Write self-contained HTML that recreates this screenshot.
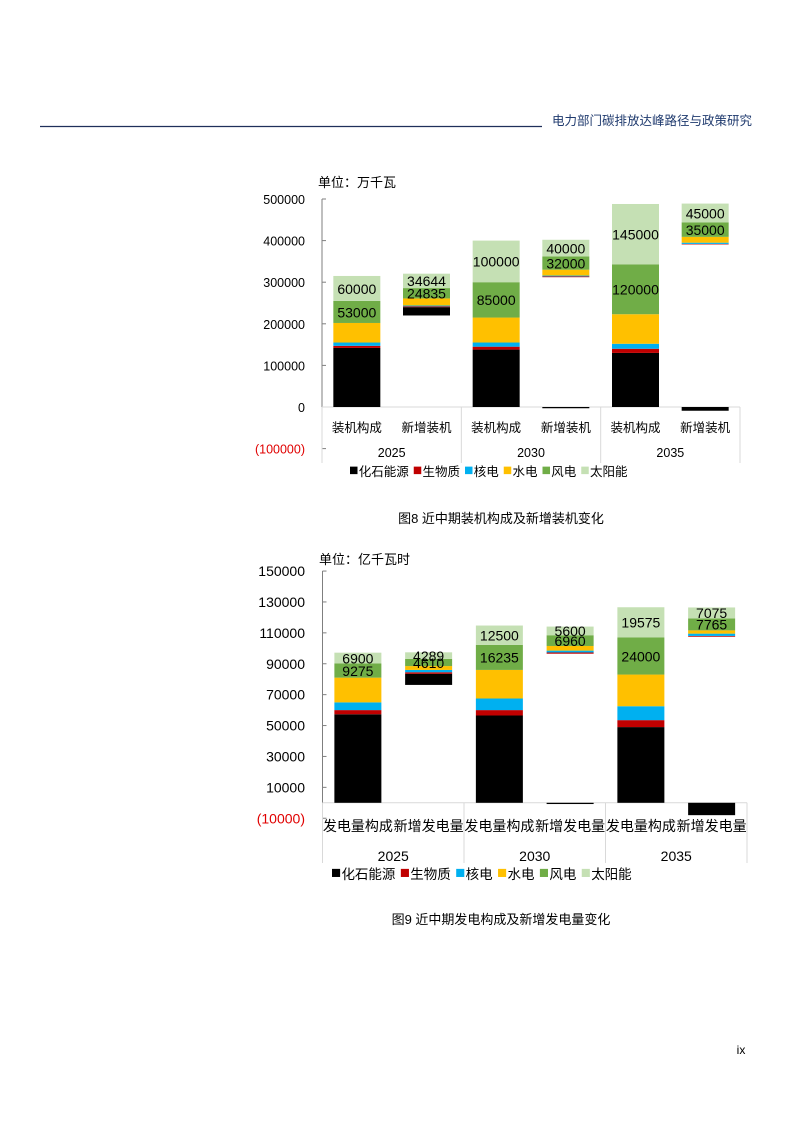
<!DOCTYPE html>
<html><head><meta charset="utf-8">
<style>
html,body{margin:0;padding:0;background:#fff;}
body{width:793px;height:1122px;position:relative;overflow:hidden;font-family:"Liberation Sans","Noto Sans CJK SC",sans-serif;}
svg text{font-family:"Liberation Sans","Noto Sans CJK SC",sans-serif;}
</style></head>
<body>
<svg id="page" width="793" height="1122" viewBox="0 0 793 1122">
  <line x1="40" y1="126.5" x2="542" y2="126.5" stroke="#1f2f5a" stroke-width="1.2"/>
  <text x="752" y="125" font-size="12.5" fill="#1f3a6e" text-anchor="end">电力部门碳排放达峰路径与政策研究</text>
  <text x="501" y="523" font-size="13" fill="#000" text-anchor="middle">图8 近中期装机构成及新增装机变化</text>
  <text x="501" y="924" font-size="13" fill="#000" text-anchor="middle">图9 近中期发电构成及新增发电量变化</text>
  <text x="741" y="1054" font-size="12" fill="#000" text-anchor="middle">ix</text>
  <g id="c1"></g>
  <g id="c2"></g>
</svg>
<script>
// ---- Chart 1 data (万千瓦) ----
const c1Categories = ["装机构成","新增装机","装机构成","新增装机","装机构成","新增装机"];
const c1Years = ["2025","2030","2035"];
const c1Ticks = [500000,400000,300000,200000,100000,0,-100000];
const c1TickLabels = ["500000","400000","300000","200000","100000","0","(100000)"];
const c1FossilBase = [0,220000,0,0,0,0];
const c1Fossil = [142000,20000,138000,-3000,130000,-9000];
const c1OthersBase = [142000,240000,138000,312000,130000,391000];
const c1Bio = [5000,2000,7000,2000,10000,1000];
const c1Nuclear = [8000,2000,10000,2000,12000,3000];
const c1Hydro = [47000,17000,60000,14000,71000,14000];
const c1Wind = [53000,24835,85000,32000,120000,35000];
const c1Solar = [60000,34644,100000,40000,145000,45000];
const c1WindLabels = ["53000","24835","85000","32000","120000","35000"];
const c1SolarLabels = ["60000","34644","100000","40000","145000","45000"];

// ---- Chart 2 data (亿千瓦时) ----
const c2Categories = ["发电量构成","新增发电量","发电量构成","新增发电量","发电量构成","新增发电量"];
const c2Years = ["2025","2030","2035"];
const c2Ticks = [150000,130000,110000,90000,70000,50000,30000,10000,-10000];
const c2TickLabels = ["150000","130000","110000","90000","70000","50000","30000","10000","(10000)"];
const c2FossilBase = [0,76300,0,0,0,0];
const c2Fossil = [57300,7200,56500,-800,49000,-8000];
const c2OthersBase = [57300,83500,56500,96500,49000,107500];
const c2Bio = [2700,1000,3500,800,4500,500];
const c2Nuclear = [5000,1500,7500,1200,9000,1500];
const c2Hydro = [16000,2500,18500,3000,20500,2100];
const c2Wind = [9275,4610,16235,6960,24000,7765];
const c2Solar = [6900,4289,12500,5600,19575,7075];
const c2WindLabels = ["9275","4610","16235","6960","24000","7765"];
const c2SolarLabels = ["6900","4289","12500","5600","19575","7075"];

const legendNames = ["化石能源","生物质","核电","水电","风电","太阳能"];
const colors = ["#000000","#c00000","#00b0f0","#ffc000","#70ad47","#c5e0b4"];
const SVGNS = "http://www.w3.org/2000/svg";

function mk(parent, tag, attrs, txt){
  const e = document.createElementNS(SVGNS, tag);
  for (const k in attrs) e.setAttribute(k, attrs[k]);
  if (txt !== undefined) e.textContent = txt;
  parent.appendChild(e);
  return e;
}

function drawChart(g, cfg){
  const y = v => cfg.y0 - (v - cfg.v0) * cfg.scale;
  // unit label
  const u = mk(g,'text',{x:cfg.unitX,y:cfg.unitY,'font-size':cfg.fs,fill:'#000'},cfg.unit);
  
  
  // y axis
  const ax = mk(g,'line',{x1:cfg.axisX,y1:y(cfg.ticks[0]),x2:cfg.axisX,y2:y(cfg.ticks[cfg.ticks.length-1]),stroke:'#7f7f7f','stroke-width':1});
  
  
  cfg.ticks.forEach((t,i)=>{
    const tk = mk(g,'line',{x1:cfg.axisX,y1:y(t),x2:cfg.axisX+4,y2:y(t),stroke:'#7f7f7f','stroke-width':1});
    
    
    const lb = mk(g,'text',{x:cfg.tickX,y:y(t)+5,'font-size':cfg.tfs,'text-anchor':'end',fill:t<0?'#e00000':'#000'},cfg.tickLabels[i]);
    
    
  });
  // category axis
  const xa = mk(g,'line',{x1:cfg.axisX,y1:y(0),x2:cfg.axisEnd,y2:y(0),stroke:'#d9d9d9','stroke-width':1});
  
  
  const slot = (cfg.axisEnd - cfg.axisX)/cfg.cats.length;
  for (let k=0;k<=cfg.years.length;k++){
    const xx = cfg.axisX + k*slot*2;
    const d = mk(g,'line',{x1:xx,y1:y(0),x2:xx,y2:cfg.divBottom,stroke:'#d9d9d9','stroke-width':1});
    
    
  }
  cfg.years.forEach((yr,k)=>{
    const t = mk(g,'text',{x:cfg.axisX+(k*2+1)*slot,y:cfg.yearY,'font-size':cfg.cfs,'text-anchor':'middle',fill:'#000'},yr);
    
    
  });
  cfg.cats.forEach((c,i)=>{
    const cx = cfg.axisX + (i+0.5)*slot;
    const t = mk(g,'text',{x:cx,y:cfg.catY,'font-size':cfg.cfs,'text-anchor':'middle',fill:'#000'},c);
    
    
    const bx = cx - cfg.bw/2;
    const seg = (v0,v1,col,name)=>{
      const top = Math.min(y(v0),y(v1)), h = Math.abs(y(v1)-y(v0));
      const r = mk(g,'rect',{x:bx,y:top,width:cfg.bw,height:Math.max(h,0.5),fill:col});
      
      
    };
    seg(cfg.fossilBase[i], cfg.fossilBase[i]+cfg.fossil[i], colors[0], 'bar-fossil');
    let b = cfg.othersBase[i];
    const series = [cfg.bio,cfg.nuc,cfg.hydro,cfg.wind,cfg.solar];
    const names = ['bar-biomass','bar-nuclear','bar-hydro','bar-wind','bar-solar'];
    const mids = [];
    series.forEach((s,j)=>{ seg(b,b+s[i],colors[j+1],names[j]); mids.push(b+s[i]/2); b+=s[i]; });
    const wl = mk(g,'text',{x:cx,y:y(mids[3])+cfg.lfs*0.38,'font-size':cfg.lfs,'text-anchor':'middle',fill:'#000'},cfg.windLabels[i]);
    
    
    const sl = mk(g,'text',{x:cx,y:y(mids[4])+cfg.lfs*0.38,'font-size':cfg.lfs,'text-anchor':'middle',fill:'#000'},cfg.solarLabels[i]);
    
    
  });
  // legend
  let lx = cfg.legX;
  legendNames.forEach((n,j)=>{
    const sw = mk(g,'rect',{x:lx,y:cfg.legY-cfg.lgs*0.75,width:cfg.lgs*0.6,height:cfg.lgs*0.6,fill:colors[j]});
    
    
    const t = mk(g,'text',{x:lx+cfg.lgs*0.7,y:cfg.legY,'font-size':cfg.lgs,fill:'#000'},n);
    
    
    lx += cfg.lgs*0.7 + n.length*cfg.lgs + cfg.lgs*0.4;
  });
}

drawChart(document.getElementById('c1'),{
  unit:'单位：万千瓦', unitX:318, unitY:187, fs:13,
  y0:407, v0:0, scale:41.6/100000, axisX:322, axisEnd:740, tickX:305,
  ticks:c1Ticks, tickLabels:c1TickLabels, tfs:12.5,
  cats:c1Categories, years:c1Years, catY:432, yearY:457, cfs:12.5, divBottom:463,
  bw:47, fossilBase:c1FossilBase, fossil:c1Fossil, othersBase:c1OthersBase,
  bio:c1Bio, nuc:c1Nuclear, hydro:c1Hydro, wind:c1Wind, solar:c1Solar,
  windLabels:c1WindLabels, solarLabels:c1SolarLabels, lfs:14,
  legX:350, legY:476, lgs:12.5
});
drawChart(document.getElementById('c2'),{
  unit:'单位：亿千瓦时', unitX:319, unitY:564, fs:13,
  y0:802.8, v0:0, scale:1.545/1000, axisX:322.5, axisEnd:747, tickX:305,
  ticks:c2Ticks, tickLabels:c2TickLabels, tfs:14,
  cats:c2Categories, years:c2Years, catY:831, yearY:861, cfs:14, divBottom:863,
  bw:47, fossilBase:c2FossilBase, fossil:c2Fossil, othersBase:c2OthersBase,
  bio:c2Bio, nuc:c2Nuclear, hydro:c2Hydro, wind:c2Wind, solar:c2Solar,
  windLabels:c2WindLabels, solarLabels:c2SolarLabels, lfs:14,
  legX:332, legY:879, lgs:13.5
});
</script>
</body></html>
